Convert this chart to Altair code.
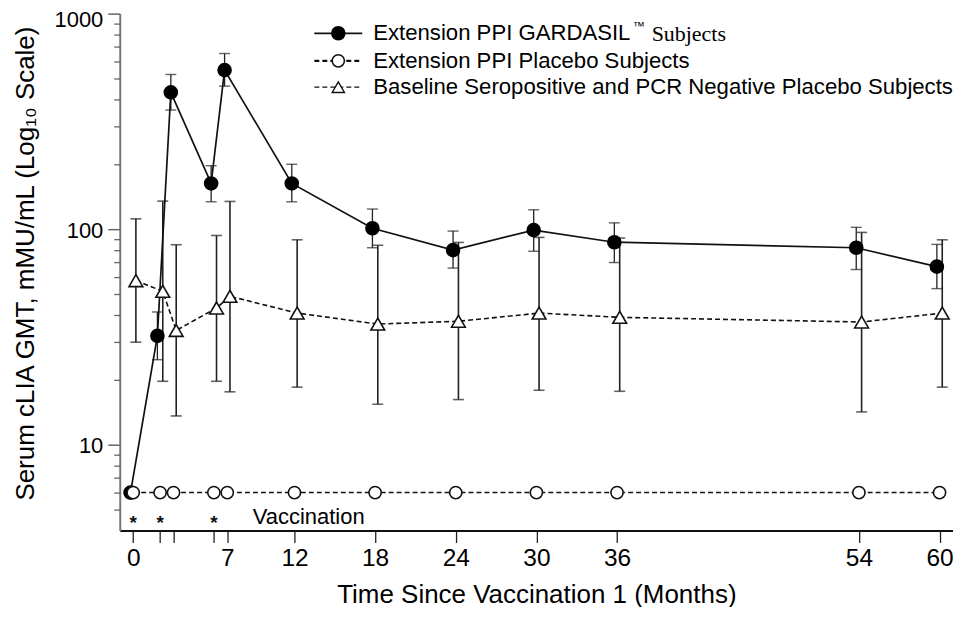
import json
import altair as alt
import pandas as pd

# ---------------- data ----------------
months = [0, 2, 3, 6, 7, 12, 18, 24, 30, 36, 54, 60]

gardasil_gmt = [6.0, 32.0, 431.0, 163.0, 547.0, 163.0, 101.0, 80.0, 99.0, 87.0, 82.0, 67.0]
gardasil_lower = [None, 24.8, 357.0, 134.0, 461.0, 134.0, 82.0, 66.0, 79.0, 70.0, 65.0, 53.0]
gardasil_upper = [None, 41.3, 522.0, 197.0, 653.0, 200.0, 124.0, 98.0, 123.0, 107.0, 102.0, 85.0]

placebo_gmt = [6.0, 6.0, 6.0, 6.0, 6.0, 6.0, 6.0, 6.0, 6.0, 6.0, 6.0, 6.0]

baseline_gmt = [57.7, 51.5, 33.9, 43.1, 48.8, 40.8, 36.3, 37.4, 40.8, 39.0, 37.1, 40.8]
baseline_lower = [29.9, 19.7, 13.6, 19.7, 17.6, 18.5, 15.4, 16.2, 17.9, 17.7, 14.2, 18.5]
baseline_upper = [111.7, 135.0, 84.7, 93.5, 134.5, 89.3, 84.2, 86.8, 91.6, 91.0, 96.6, 89.3]

vaccination_months = [0, 2, 6]
vaccination_label = "Vaccination"

x_ticks = [0, 2, 3, 6, 7, 12, 18, 24, 30, 36, 54, 60]
x_unlabeled = [2, 3, 6]
y_major = [10, 100, 1000]
y_minor = [5, 6, 7, 8, 9, 20, 30, 40, 50, 60, 70, 80, 90,
           200, 300, 400, 500, 600, 700, 800, 900]

legend_labels = [
    "Extension PPI GARDASIL",
    "Extension PPI Placebo Subjects",
    "Baseline Seropositive and PCR Negative Placebo Subjects",
]
legend_tm = "\u2122"
legend_tail = "Subjects"

x_title = "Time Since Vaccination 1 (Months)"
y_title = "Serum cLIA GMT, mMU/mL (Log\u2081\u2080 Scale)"

# small horizontal dodge so the series do not sit on top of each other
dodge = {"gardasil": -0.2, "placebo": 0.0, "baseline": 0.2}

df_g = pd.DataFrame({"xpos": [m + dodge["gardasil"] for m in months],
                     "gmt": gardasil_gmt, "lo": gardasil_lower, "hi": gardasil_upper})
df_ge = df_g.dropna()
df_p = pd.DataFrame({"xpos": [m + dodge["placebo"] for m in months], "gmt": placebo_gmt})
df_b = pd.DataFrame({"xpos": [m + dodge["baseline"] for m in months],
                     "gmt": baseline_gmt, "lo": baseline_lower, "hi": baseline_upper})
df_vac = pd.DataFrame({"xpos": vaccination_months})
df_vlab = pd.DataFrame({"xpos": [8.9], "label": [vaccination_label]})

FONT = "Liberation Sans"

XSCALE = alt.Scale(domain=[-1, 61], nice=False, zero=False)
XAXIS = alt.Axis(
    values=x_ticks,
    labelExpr="indexof(" + json.dumps(x_unlabeled) + ", datum.value) >= 0 ? '' : datum.label",
    title=x_title, grid=False, tickSize=12, tickColor="#222", tickWidth=1.3,
    domainColor="#111", domainWidth=2, labelFont=FONT, labelFontSize=24.5,
    labelPadding=4, labelColor="black", titleFont=FONT, titleFontSize=26,
    titleFontWeight="normal", titleColor="black", titlePadding=12,
)


def X(field="xpos"):
    return alt.X(f"{field}:Q", scale=XSCALE, axis=XAXIS)


YSCALE = alt.Scale(type="log", domain=[4, 1000], nice=False)
YAXIS_MAJOR = alt.Axis(
    values=y_major, format="d", orient="left", title=y_title, grid=False,
    tickSize=12, tickColor="#666", tickWidth=1.5, domainColor="#777", domainWidth=2,
    labelFont=FONT, labelFontSize=22, labelPadding=5, labelColor="black",
    labelOffset={"condition": {"test": "datum.value >= 1000", "value": 6}, "value": 1},
    titleFont=FONT, titleFontSize=26, titleFontWeight="normal", titleColor="black",
    titleAngle=270, titleX=-94, titleY=250, titleBaseline="middle", titleAlign="center",
)
YAXIS_MINOR = alt.Axis(
    values=y_minor, orient="left", labels=False, domain=False, grid=False,
    tickSize=6, tickColor="#666", tickWidth=1.3, title="",
)


def Y(field, axis=None):
    if axis is None:
        return alt.Y(f"{field}:Q", scale=YSCALE, axis=None)
    return alt.Y(f"{field}:Q", scale=YSCALE, axis=axis)


# ---------------- baseline (triangles) ----------------
b_line = alt.Chart(df_b).mark_line(color="#111", strokeWidth=1.6, strokeDash=[5, 3]).encode(
    x=X(), y=Y("gmt", YAXIS_MAJOR))
b_rule = alt.Chart(df_b).mark_rule(color="#222", strokeWidth=1.6).encode(
    x=X(), y=Y("lo", YAXIS_MINOR), y2="hi:Q")
b_cap_lo = alt.Chart(df_b).mark_tick(orient="horizontal", size=11, thickness=1.6, color="#222").encode(
    x=X(), y=Y("lo"))
b_cap_hi = alt.Chart(df_b).mark_tick(orient="horizontal", size=11, thickness=1.6, color="#222").encode(
    x=X(), y=Y("hi"))
b_pts = alt.Chart(df_b).mark_point(shape="triangle-up", filled=True, fill="white", stroke="#111",
                                   strokeWidth=1.6, size=190, opacity=1).encode(x=X(), y=Y("gmt"))

# ---------------- gardasil (filled circles) ----------------
g_rule = alt.Chart(df_ge).mark_rule(color="#222", strokeWidth=1.3).encode(
    x=X(), y=Y("lo"), y2="hi:Q")
g_cap_lo = alt.Chart(df_ge).mark_tick(orient="horizontal", size=11, thickness=1.4, color="#222").encode(
    x=X(), y=Y("lo"))
g_cap_hi = alt.Chart(df_ge).mark_tick(orient="horizontal", size=11, thickness=1.4, color="#222").encode(
    x=X(), y=Y("hi"))
g_line = alt.Chart(df_g).mark_line(color="#111", strokeWidth=1.7).encode(x=X(), y=Y("gmt"))
g_pts = alt.Chart(df_g).mark_point(shape="circle", filled=True, fill="black", stroke="black",
                                   size=160, opacity=1).encode(x=X(), y=Y("gmt"))

# ---------------- placebo (open circles) ----------------
p_line = alt.Chart(df_p).mark_line(color="#111", strokeWidth=1.5, strokeDash=[5, 3]).encode(
    x=X(), y=Y("gmt"))
p_pts = alt.Chart(df_p).mark_point(shape="circle", filled=True, fill="white", stroke="#111",
                                   strokeWidth=1.6, size=150, opacity=1).encode(x=X(), y=Y("gmt"))

# ---------------- vaccination annotation ----------------
vac_stars = alt.Chart(df_vac).mark_text(text="*", font=FONT, fontSize=19, fontWeight="bold",
                                        baseline="alphabetic", color="#111").encode(
    x=X(), y=alt.YDatum(4.07, scale=YSCALE, axis=None))
vac_text = alt.Chart(df_vlab).mark_text(font=FONT, fontSize=22, align="left", baseline="alphabetic",
                                        color="black").encode(
    x=X(), y=alt.YDatum(4.28, scale=YSCALE, axis=None), text="label:N")

# ---------------- legend (drawn by hand) ----------------
row_y = [19.7, 47.3, 73.7]
sx0, sx1, sxm, tx = 195, 243, 219, 254
LEG_FS = 22.2
leg = []
for i, lab in enumerate(legend_labels):
    d = pd.DataFrame({"label": [lab]})
    if i == 0:
        ln = alt.Chart(d).mark_rule(color="#111", strokeWidth=1.8)
        sym = alt.Chart(d).mark_point(shape="circle", filled=True, fill="black", stroke="black",
                                      size=160, opacity=1)
    elif i == 1:
        ln = alt.Chart(d).mark_rule(color="#111", strokeWidth=2.2, strokeDash=[5, 3])
        sym = alt.Chart(d).mark_point(shape="circle", filled=True, fill="white", stroke="#111",
                                      strokeWidth=1.6, size=150, opacity=1)
    else:
        ln = alt.Chart(d).mark_rule(color="#111", strokeWidth=1.4, strokeDash=[5, 3])
        sym = alt.Chart(d).mark_point(shape="triangle-up", filled=True, fill="white", stroke="#111",
                                      strokeWidth=1.4, size=150, opacity=1)
    leg.append(ln.encode(x=alt.value(sx0), x2=alt.value(sx1), y=alt.value(row_y[i])))
    leg.append(sym.encode(x=alt.value(sxm), y=alt.value(row_y[i])))
    leg.append(alt.Chart(d).mark_text(font=FONT, fontSize=LEG_FS, align="left", baseline="middle",
                                      color="black").encode(
        x=alt.value(tx), y=alt.value(row_y[i]), text="label:N"))

d_tm = pd.DataFrame({"label": [legend_tm]})
leg.append(alt.Chart(d_tm).mark_text(font=FONT, fontSize=12, align="left", baseline="middle",
                                     color="black").encode(
    x=alt.value(514), y=alt.value(row_y[0] - 7), text="label:N"))
d_tail = pd.DataFrame({"label": [legend_tail]})
leg.append(alt.Chart(d_tail).mark_text(font="Liberation Serif", fontSize=22, align="left",
                                       baseline="middle", color="black").encode(
    x=alt.value(533), y=alt.value(row_y[0] + 1), text="label:N"))

chart = alt.layer(
    b_line, b_rule, b_cap_lo, b_cap_hi,
    g_rule, g_cap_lo, g_cap_hi, g_line,
    p_line, b_pts, g_pts, p_pts,
    vac_stars, vac_text, *leg,
).resolve_axis(y="independent").properties(
    width=835, height=518,
    autosize=alt.AutoSizeParams(type="none"),
    padding={"left": 112, "top": 5, "right": 0, "bottom": 76},
    background="white",
).configure_view(strokeWidth=0)

chart.save("out.html", embed_options={"renderer": "svg", "actions": False})
